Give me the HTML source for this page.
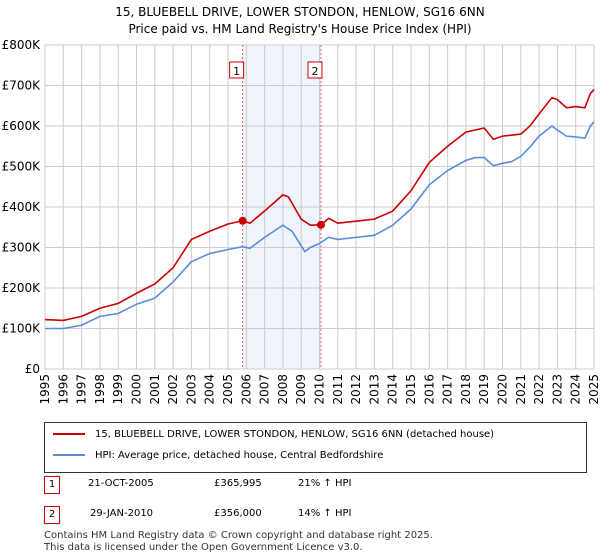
<!DOCTYPE html>
<html><head><meta charset="utf-8"><style>
body{margin:0;background:#fff;font-family:"DejaVu Sans","Liberation Sans",sans-serif;}
#wrap{position:relative;width:600px;height:560px;overflow:hidden}
</style></head><body><div id="wrap">
<svg id="chart" width="600" height="560" style="position:absolute;left:0;top:0;font-family:'DejaVu Sans',sans-serif">
<text x="300" y="16" text-anchor="middle" font-size="12">15, BLUEBELL DRIVE, LOWER STONDON, HENLOW, SG16 6NN</text>
<text x="300" y="33" text-anchor="middle" font-size="12">Price paid vs. HM Land Registry's House Price Index (HPI)</text>
<g id="grid"></g><g id="marks"></g>
</svg>
<div style="position:absolute;left:44px;top:422px;width:541px;height:49px;border:1px solid #333;font-size:10px">
 <div style="position:absolute;left:8px;top:6px"><span style="display:inline-block;width:32px;height:2px;background:#cc0000;vertical-align:middle;margin-right:10px"></span>15, BLUEBELL DRIVE, LOWER STONDON, HENLOW, SG16 6NN (detached house)</div>
 <div style="position:absolute;left:8px;top:27px"><span style="display:inline-block;width:32px;height:2px;background:#5b8ed6;vertical-align:middle;margin-right:10px"></span>HPI: Average price, detached house, Central Bedfordshire</div>
</div>
<div style="position:absolute;top:476px;left:44px;font-size:10px;width:560px">
 <div style="position:absolute;left:0;top:0;width:14px;height:16px;border:1px solid #cc0000;text-align:center;line-height:16px">1</div>
 <div style="position:absolute;left:44px;top:2px">21-OCT-2005</div>
 <div style="position:absolute;left:170px;top:2px">£365,995</div>
 <div style="position:absolute;left:254px;top:2px">21% ↑ HPI</div>
 <div style="position:absolute;left:0;top:30px;width:14px;height:16px;border:1px solid #cc0000;text-align:center;line-height:16px">2</div>
 <div style="position:absolute;left:46px;top:32px">29-JAN-2010</div>
 <div style="position:absolute;left:170px;top:32px">£356,000</div>
 <div style="position:absolute;left:254px;top:32px">14% ↑ HPI</div>
</div>
<div style="position:absolute;left:44px;top:530px;font-size:10px;line-height:12px;color:#333">Contains HM Land Registry data © Crown copyright and database right 2025.<br>This data is licensed under the Open Government Licence v3.0.</div>
</div>
<script>
const yTicks=[0,100,200,300,400,500,600,700,800];
const yTickLabels=["£0","£100K","£200K","£300K","£400K","£500K","£600K","£700K","£800K"];
const xYears=[1995,1996,1997,1998,1999,2000,2001,2002,2003,2004,2005,2006,2007,2008,2009,2010,2011,2012,2013,2014,2015,2016,2017,2018,2019,2020,2021,2022,2023,2024,2025];
const hpiT=[1995,1996,1997,1998,1999,2000,2001,2002,2003,2004,2005,2005.8,2006.2,2007,2008,2008.5,2009.2,2009.5,2010,2010.5,2011,2012,2013,2014,2015,2016,2017,2018,2018.5,2019,2019.5,2020,2020.5,2021,2021.5,2022,2022.7,2023,2023.5,2024,2024.5,2024.8,2025];
const hpiV=[100,100,108,130,137,160,175,215,265,285,295,302,298,325,355,340,290,300,310,325,320,325,330,355,395,455,490,515,522,522,502,508,512,525,548,575,600,590,575,573,570,600,610];
const priceT=[1995,1996,1997,1998,1999,2000,2001,2002,2003,2004,2005,2005.8,2006.2,2007,2008,2008.3,2009,2009.5,2010.08,2010.5,2011,2012,2013,2014,2015,2016,2017,2018,2019,2019.5,2020,2021,2021.5,2022,2022.7,2023,2023.5,2024,2024.5,2024.8,2025];
const priceV=[122,120,130,150,162,187,210,250,320,340,358,366,360,390,430,425,370,355,356,372,360,365,370,390,440,510,550,585,595,567,575,580,600,630,670,665,645,648,645,680,690];
const saleT=[2005.8,2010.08];
const saleV=[365.995,356];
const saleLabels=["1","2"];
const X=t=>45+(t-1995)*(549/30), Y=v=>369-v*0.405;
const NS="http://www.w3.org/2000/svg";
const grid=document.getElementById('grid'), marks=document.getElementById('marks');
function mk(p,tag,a){const e=document.createElementNS(NS,tag);for(const k in a)e.setAttribute(k,a[k]);p.appendChild(e);return e;}
const sh=mk(grid,'rect',{x:X(saleT[0]),y:45,width:X(saleT[1])-X(saleT[0]),height:324,fill:'#eef3fc'});


yTicks.forEach((v,i)=>{
 const l=mk(grid,'line',{x1:45,x2:594,y1:Y(v),y2:Y(v),stroke:'#ccc'});
 
 
 const t=mk(grid,'text',{x:40,y:Y(v)+4,'text-anchor':'end','font-size':12});
 
 
 t.textContent=yTickLabels[i];
});
xYears.forEach(yr=>{
 const l=mk(grid,'line',{x1:X(yr),x2:X(yr),y1:45,y2:369,stroke:'#ccc'});
 
 
 const t=mk(grid,'text',{x:0,y:0,'text-anchor':'end','font-size':12,transform:'translate('+(X(yr)+4)+',374) rotate(-90)'});
 
 
 t.textContent=yr;
});
saleT.forEach((t,i)=>{
 const l=mk(marks,'line',{x1:X(t),x2:X(t),y1:45,y2:369,stroke:'#e06060','stroke-dasharray':'2,2'});
 
 
 const b=mk(marks,'rect',{x:X(t)-13,y:62,width:14,height:16,fill:'#fff',stroke:'#cc0000'});
 
 
 const tx=mk(marks,'text',{x:X(t)-6,y:75,'text-anchor':'middle','font-size':11});
 
 
 tx.textContent=saleLabels[i];
});
const hp=mk(marks,'polyline',{points:hpiT.map((t,i)=>X(t)+','+Y(hpiV[i])).join(' '),fill:'none',stroke:'#5b8ed6','stroke-width':1.6});


const pp=mk(marks,'polyline',{points:priceT.map((t,i)=>X(t)+','+Y(priceV[i])).join(' '),fill:'none',stroke:'#cc0000','stroke-width':1.6});


saleT.forEach((t,i)=>{
 const c=mk(marks,'circle',{cx:X(t),cy:Y(saleV[i]),r:4,fill:'#cc0000'});
 
 
});
</script>
</body></html>
